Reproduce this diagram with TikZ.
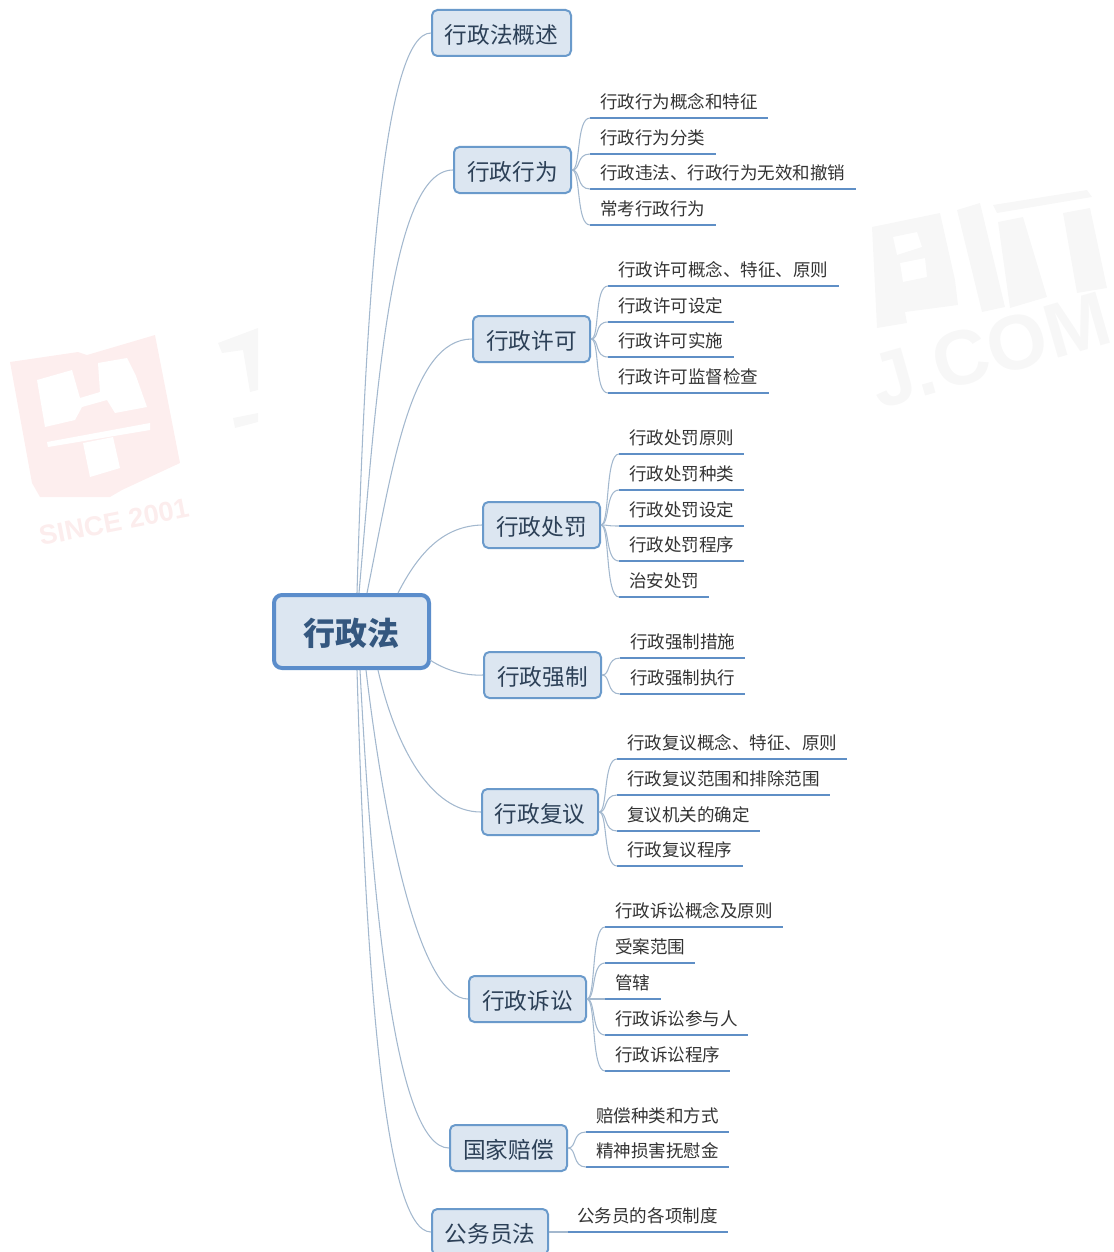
\documentclass[tikz,border=0pt]{standalone}
\usepackage{fontspec}
\setmainfont{Noto Sans CJK SC}
\newfontfamily\wmfont{Liberation Sans}
\definecolor{boxfill}{HTML}{DCE6F1}
\definecolor{boxline}{HTML}{6A9ACB}
\definecolor{mainline}{HTML}{5B8DCB}
\definecolor{connline}{HTML}{A3B8CE}
\definecolor{uline}{HTML}{5F8FC6}
\definecolor{branchtext}{HTML}{2C4057}
\definecolor{maintext}{HTML}{34577F}
\definecolor{leaftext}{HTML}{333333}
\definecolor{wmpink}{HTML}{FDEEEE}
\definecolor{wmpinktext}{HTML}{FCEDED}
\definecolor{wmgrey}{HTML}{F7F7F7}
\tikzset{
  mainbox/.style={draw=mainline,fill=boxfill,line width=3pt,rounded corners=6pt,inner sep=0pt,text=maintext,font=\fontsize{24pt}{28pt}\selectfont\bfseries},
  branchbox/.style={draw=boxline,fill=boxfill,line width=1.5pt,rounded corners=4pt,inner sep=0pt,text=branchtext,font=\fontsize{17pt}{20pt}\selectfont},
  leafbox/.style={inner sep=0pt,outer sep=0pt,anchor=south west,text=leaftext,align=left,font=\fontsize{13.15pt}{16pt}\selectfont,minimum height=24.75pt},
  conn/.style={draw=connline,line width=0.8pt},
  ulinestyle/.style={draw=uline,line width=2.1pt},
  wmp/.style={fill=wmpink,draw=none},
  wmg/.style={fill=wmgrey,draw=none}
}
% \branchnode{name}{x0}{y0}{x1}{y1}{text}
\newcommand{\branchnode}[6]{%
  \node[branchbox,minimum width={(#4-#2)*0.75pt},minimum height={(#5-#3)*0.75pt}] (#1) at ({(#2+#4)/2},{(#3+#5)/2}) {\raisebox{-1.2pt}[\height][\depth]{#6}};}
% \leafnode{name}{parent}{x0}{x1}{y}{text}
\newcommand{\leafnode}[6]{%
  \node[leafbox,text width={(#4-#3)*0.75pt}] (#1) at (#3,#5) {\hspace*{7.5pt}#6};
  \draw[ulinestyle] (#1.south west) -- (#1.south east);
  \draw[conn] (#2.east) .. controls +(9,0) and +(-14,0) .. (#1.south west);}
\begin{document}
\begin{tikzpicture}[x=0.75pt,y=-0.75pt]
\clip (0,0) rectangle (1113,1252);
\useasboundingbox (0,0) rectangle (1113,1252);
% watermarks: red book
\fill[wmp] (10,362) -- (78,352) -- (87,355) -- (155,335) -- (180,463) -- (122,490) -- (110,497) -- (40,497) -- (32,483) -- cycle;
\fill[white] (37,380) -- (72,370) -- (80,398) -- (100,392) -- (98,363) -- (127,358) -- (136,376) -- (147,407) -- (115,413) -- (107,400) -- (82,407) -- (75,420) -- (45,427) -- cycle;
\fill[white] (47,442) -- (150,423) -- (150,430) -- (48,447) -- cycle;
\fill[white] (83,443) -- (113,437) -- (120,468) -- (90,477) -- cycle;
\node[rotate=11,text=wmpinktext,font=\wmfont\bfseries\fontsize{20.5pt}{22pt}\selectfont,inner sep=0pt] (since) at (114,522) {SINCE 2001};
% watermarks: grey
\fill[wmg] (218,343) -- (258,328) -- (258,390) -- (250,392) -- (243,350) -- (222,353) -- cycle;
\fill[wmg] (233,418) -- (258,413) -- (258,422) -- (235,428) -- cycle;
\fill[wmg,even odd rule] (872,227) -- (940,213) -- (955,280) -- (958,305) -- (905,312) -- (907,323) -- (877,328) -- cycle
  (893,237) -- (917,232) -- (922,247) -- (897,255) -- cycle
  (900,263) -- (925,258) -- (927,277) -- (903,282) -- cycle;
\fill[wmg] (957,210) -- (980,203) -- (1005,307) -- (982,312) -- cycle;
\fill[wmg] (993,205) -- (1087,190) -- (1092,197) -- (997,213) -- cycle;
\fill[wmg] (998,222) -- (1023,217) -- (1047,297) -- (1010,308) -- cycle;
\fill[wmg] (1063,213) -- (1090,208) -- (1107,288) -- (1077,293) -- cycle;
\node[rotate=16,text=wmgrey,font=\wmfont\bfseries\fontsize{58pt}{62pt}\selectfont,inner sep=0pt] (jcom) at (990,350) {J.COM};
% main and branches
\node[mainbox,minimum width={155*0.75pt},minimum height={73*0.75pt}] (main) at (351.5,631.5) {\raisebox{-1.2pt}[\height][\depth]{行政法}};
\branchnode{b1}{432}{10}{571}{56}{行政法概述}
\branchnode{b2}{454}{147}{571}{193}{行政行为}
\branchnode{b3}{473}{316}{590}{362}{行政许可}
\branchnode{b4}{483}{502}{600}{548}{行政处罚}
\branchnode{b5}{484}{652}{601}{698}{行政强制}
\branchnode{b6}{482}{789}{598}{835}{行政复议}
\branchnode{b7}{469}{976}{586}{1022}{行政诉讼}
\branchnode{b8}{450}{1125}{567}{1171}{国家赔偿}
\branchnode{b9}{432}{1209}{548}{1255}{公务员法}
% attachment points on the main box
\coordinate (m1) at (357,593);
\coordinate (m2) at (359,593);
\coordinate (m3) at (367,593);
\coordinate (m4) at (398,593);
\coordinate (m5) at (430,660);
\coordinate (m6) at (378,670);
\coordinate (m7) at (366,670);
\coordinate (m8) at (360,670);
\coordinate (m9) at (357,670);
\draw[conn] (m1) .. controls (366,280) and (385,33) .. (b1.west);
\draw[conn] (m2) .. controls (376,400) and (390,170) .. (b2.west);
\draw[conn] (m3) .. controls (392,470) and (410,339) .. (b3.west);
\draw[conn] (m4) .. controls (420,550) and (445,526) .. (b4.west);
\draw[conn] (m5) .. controls (445,670) and (465,676) .. (b5.west);
\draw[conn] (m6) .. controls (395,745) and (430,812) .. (b6.west);
\draw[conn] (m7) .. controls (385,830) and (420,999) .. (b7.west);
\draw[conn] (m8) .. controls (372,900) and (395,1148) .. (b8.west);
\draw[conn] (m9) .. controls (366,980) and (385,1232) .. (b9.west);
% leaves
\leafnode{a1}{b2}{590}{768}{118}{行政行为概念和特征}
\leafnode{a2}{b2}{590}{716}{154}{行政行为分类}
\leafnode{a3}{b2}{590}{856}{189}{行政违法、行政行为无效和撤销}
\leafnode{a4}{b2}{590}{716}{225}{常考行政行为}
\leafnode{c1}{b3}{608}{839}{286}{行政许可概念、特征、原则}
\leafnode{c2}{b3}{608}{734}{322}{行政许可设定}
\leafnode{c3}{b3}{608}{734}{357}{行政许可实施}
\leafnode{c4}{b3}{608}{769}{393}{行政许可监督检查}
\leafnode{d1}{b4}{619}{744}{454}{行政处罚原则}
\leafnode{d2}{b4}{619}{744}{490}{行政处罚种类}
\leafnode{d3}{b4}{619}{744}{526}{行政处罚设定}
\leafnode{d4}{b4}{619}{744}{561}{行政处罚程序}
\leafnode{d5}{b4}{619}{709}{597}{治安处罚}
\leafnode{e1}{b5}{620}{745}{658}{行政强制措施}
\leafnode{e2}{b5}{620}{745}{694}{行政强制执行}
\leafnode{f1}{b6}{617}{847}{759}{行政复议概念、特征、原则}
\leafnode{f2}{b6}{617}{830}{795}{行政复议范围和排除范围}
\leafnode{f3}{b6}{617}{760}{831}{复议机关的确定}
\leafnode{f4}{b6}{617}{743}{866}{行政复议程序}
\leafnode{g1}{b7}{605}{783}{927}{行政诉讼概念及原则}
\leafnode{g2}{b7}{605}{695}{963}{受案范围}
\leafnode{g3}{b7}{605}{661}{999}{管辖}
\leafnode{g4}{b7}{605}{748}{1035}{行政诉讼参与人}
\leafnode{g5}{b7}{605}{730}{1071}{行政诉讼程序}
\leafnode{h1}{b8}{586}{729}{1132}{赔偿种类和方式}
\leafnode{h2}{b8}{586}{729}{1167}{精神损害抚慰金}
\node[leafbox,text width={(728-568)*0.75pt}] (i1) at (568,1232) {\hspace*{7pt}公务员的各项制度};
\draw[ulinestyle] (i1.south west) -- (i1.south east);
\draw[conn] (b9.east) -- (i1.south west);
\end{tikzpicture}
\end{document}
